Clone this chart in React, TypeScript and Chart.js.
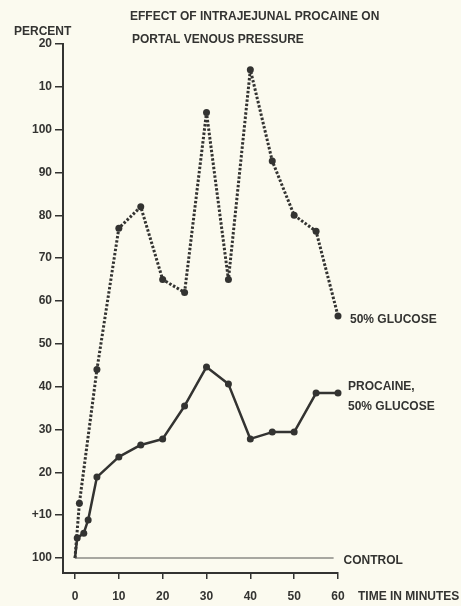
import React, { useEffect, useRef } from 'react';
import { Chart, registerables } from 'chart.js';

Chart.register(...registerables);

const glucoseTimes = [0, 1, 5, 10, 15, 20, 25, 30, 35, 40, 45, 50, 55, 60];
const glucoseValues = [0, 12.8, 44, 77, 82, 65, 62, 104, 65, 114, 92.7, 80, 76.3, 56.5];
const procaineTimes = [0, 0.5, 2, 3, 5, 10, 15, 20, 25, 30, 35, 40, 45, 50, 55, 60];
const procaineValues = [0, 4.7, 5.8, 8.9, 18.9, 23.6, 26.4, 27.8, 35.5, 44.6, 40.6, 27.8, 29.4, 29.4, 38.5, 38.5];
const controlTimes = [0, 59];
const controlValues = [0, 0];
const yTickValues = [0, 10, 20, 30, 40, 50, 60, 70, 80, 90, 100, 110, 120];
const yTickLabels = ['100', '+10', '20', '30', '40', '50', '60', '70', '80', '90', '100', '10', '20'];
const xTickValues = [0, 10, 20, 30, 40, 50, 60];

const INK = '#333331';
const BG = '#fbfaef';
const FONT = '"Liberation Sans", Arial, sans-serif';

const toPts = (xs: number[], ys: number[]) => xs.map((x, i) => ({ x, y: ys[i] }));

export default function App() {
  const ref = useRef<HTMLCanvasElement | null>(null);

  useEffect(() => {
    if (!ref.current) return;
    const textPlugin = {
      id: 'textPlugin',
      beforeDraw(chart: any) {
        const c = chart.ctx;
        c.save();
        c.fillStyle = BG;
        c.fillRect(0, 0, chart.width, chart.height);
        c.restore();
      },
      afterDraw(chart: any) {
        const c = chart.ctx;
        const xs = chart.scales.x;
        const ys = chart.scales.y;
        c.save();
        c.fillStyle = INK;
        c.font = `bold 12px ${FONT}`;
        c.textBaseline = 'middle';
        c.textAlign = 'left';
        c.fillText('EFFECT OF INTRAJEJUNAL PROCAINE ON', 130, 17);
        c.fillText('PORTAL VENOUS PRESSURE', 132, 40);
        c.fillText('PERCENT', 14, 32);
        const gx = xs.getPixelForValue(glucoseTimes[glucoseTimes.length - 1]);
        const gy = ys.getPixelForValue(glucoseValues[glucoseValues.length - 1]);
        c.fillText('50% GLUCOSE', gx + 12, gy + 4);
        const px = xs.getPixelForValue(procaineTimes[procaineTimes.length - 1]);
        const py = ys.getPixelForValue(procaineValues[procaineValues.length - 1]);
        c.fillText('PROCAINE,', px + 10, py - 6);
        c.fillText('50% GLUCOSE', px + 10, py + 14);
        const cx = xs.getPixelForValue(controlTimes[1]);
        const cy = ys.getPixelForValue(controlValues[1]);
        c.fillText('CONTROL', cx + 10, cy + 3);
        c.fillText('TIME IN MINUTES', xs.getPixelForValue(60) + 20, 597);
        c.restore();
      },
    };

    const chart = new Chart(ref.current, {
      type: 'line',
      data: {
        datasets: [
          {
            label: 'control',
            data: toPts(controlTimes, controlValues),
            borderColor: '#555553',
            borderWidth: 1,
            pointRadius: 0,
            clip: false,
          },
          {
            label: '50% glucose',
            data: toPts(glucoseTimes, glucoseValues),
            borderColor: INK,
            borderWidth: 3,
            borderDash: [2.5, 1.8],
            borderJoinStyle: 'round',
            pointRadius: (ctx: any) => (ctx.dataIndex === 0 ? 0 : 3.5),
            pointBackgroundColor: INK,
            pointBorderColor: INK,
            pointBorderWidth: 0,
            clip: false,
          },
          {
            label: 'procaine, 50% glucose',
            data: toPts(procaineTimes, procaineValues),
            borderColor: INK,
            borderWidth: 2.5,
            borderJoinStyle: 'round',
            pointRadius: (ctx: any) => (ctx.dataIndex === 0 ? 0 : 3.5),
            pointBackgroundColor: INK,
            pointBorderColor: INK,
            pointBorderWidth: 0,
            clip: false,
          },
        ],
      },
      options: {
        animation: false,
        responsive: false,
        maintainAspectRatio: false,
        layout: { padding: { left: 0, right: 123, top: 44, bottom: 0 } },
        plugins: { legend: { display: false }, tooltip: { enabled: false }, title: { display: false } },
        scales: {
          x: {
            type: 'linear',
            min: -2.74,
            max: 60,
            afterBuildTicks: (s: any) => { s.ticks = xTickValues.map((v) => ({ value: v })); },
            afterFit: (s: any) => { s.height = 33; },
            grid: { drawOnChartArea: false, drawTicks: true, tickLength: 6, color: INK, lineWidth: 1.5 },
            border: { display: true, color: INK, width: 2 },
            ticks: { color: INK, font: { family: FONT, size: 12, weight: 'bold' }, padding: 10, maxRotation: 0, autoSkip: false },
          },
          y: {
            type: 'linear',
            min: -3.5,
            max: 120,
            afterBuildTicks: (s: any) => { s.ticks = yTickValues.map((v) => ({ value: v })); },
            afterFit: (s: any) => { s.width = 63; },
            grid: { drawOnChartArea: false, drawTicks: true, tickLength: 8, color: INK, lineWidth: 1.5 },
            border: { display: true, color: INK, width: 2 },
            ticks: {
              color: INK,
              font: { family: FONT, size: 12, weight: 'bold' },
              padding: 3,
              autoSkip: false,
              callback: (v: any) => {
                const i = yTickValues.indexOf(Number(v));
                return i >= 0 ? yTickLabels[i] : '';
              },
            },
          },
        },
      },
      plugins: [textPlugin],
    } as any);
    return () => chart.destroy();
  }, []);

  return (
    <div style={{ position: 'fixed', left: 0, top: 0, width: 461, height: 606, background: BG }}>
      <canvas ref={ref} width={461} height={606} style={{ width: 461, height: 606, display: 'block' }} />
    </div>
  );
}
